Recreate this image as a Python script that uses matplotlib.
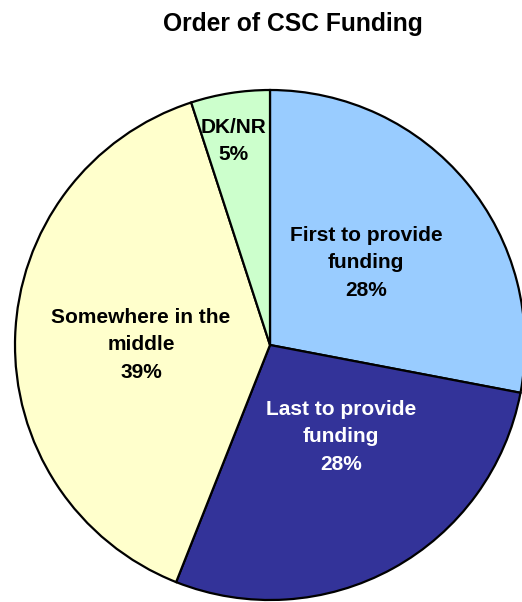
import matplotlib.pyplot as plt

plt.rcParams['font.family'] = ['Liberation Sans', 'DejaVu Sans']

# funding order survey results
labels = ['First to provide\nfunding', 'Last to provide\nfunding',
          'Somewhere in the\nmiddle', 'DK/NR']
shares = [28, 28, 39, 5]
colors = ['#99CCFF', '#333399', '#FFFFCC', '#CCFFCC']
text_colors = ['black', 'white', 'black', 'black']

# label anchor points (pixels, origin bottom-left)
label_pos = [(366, 339), (341, 165), (141, 257), (233, 461)]

W, H = 522, 602
fig = plt.figure(figsize=(W / 100, H / 100), dpi=100)
ax = fig.add_axes([0, 0, 1, 1])

wedges, _ = ax.pie(shares, colors=colors, startangle=90, counterclock=False,
                   center=(270, 257), radius=255, frame=True,
                   wedgeprops=dict(edgecolor='black', linewidth=1.6))
ax.set_xlim(0, W)
ax.set_ylim(0, H)
ax.set_aspect('equal')
ax.axis('off')

for lab, val, (x, y), c in zip(labels, shares, label_pos, text_colors):
    ax.text(x, y, f'{lab}\n{val}%', ha='center', va='center', fontsize=15,
            fontweight='bold', color=c, linespacing=1.55)

fig.text(293 / W, 1 - 24 / H, 'Order of CSC Funding', ha='center', va='center',
         fontsize=17.7, fontweight='bold')

fig.savefig('out.png', dpi=100)
